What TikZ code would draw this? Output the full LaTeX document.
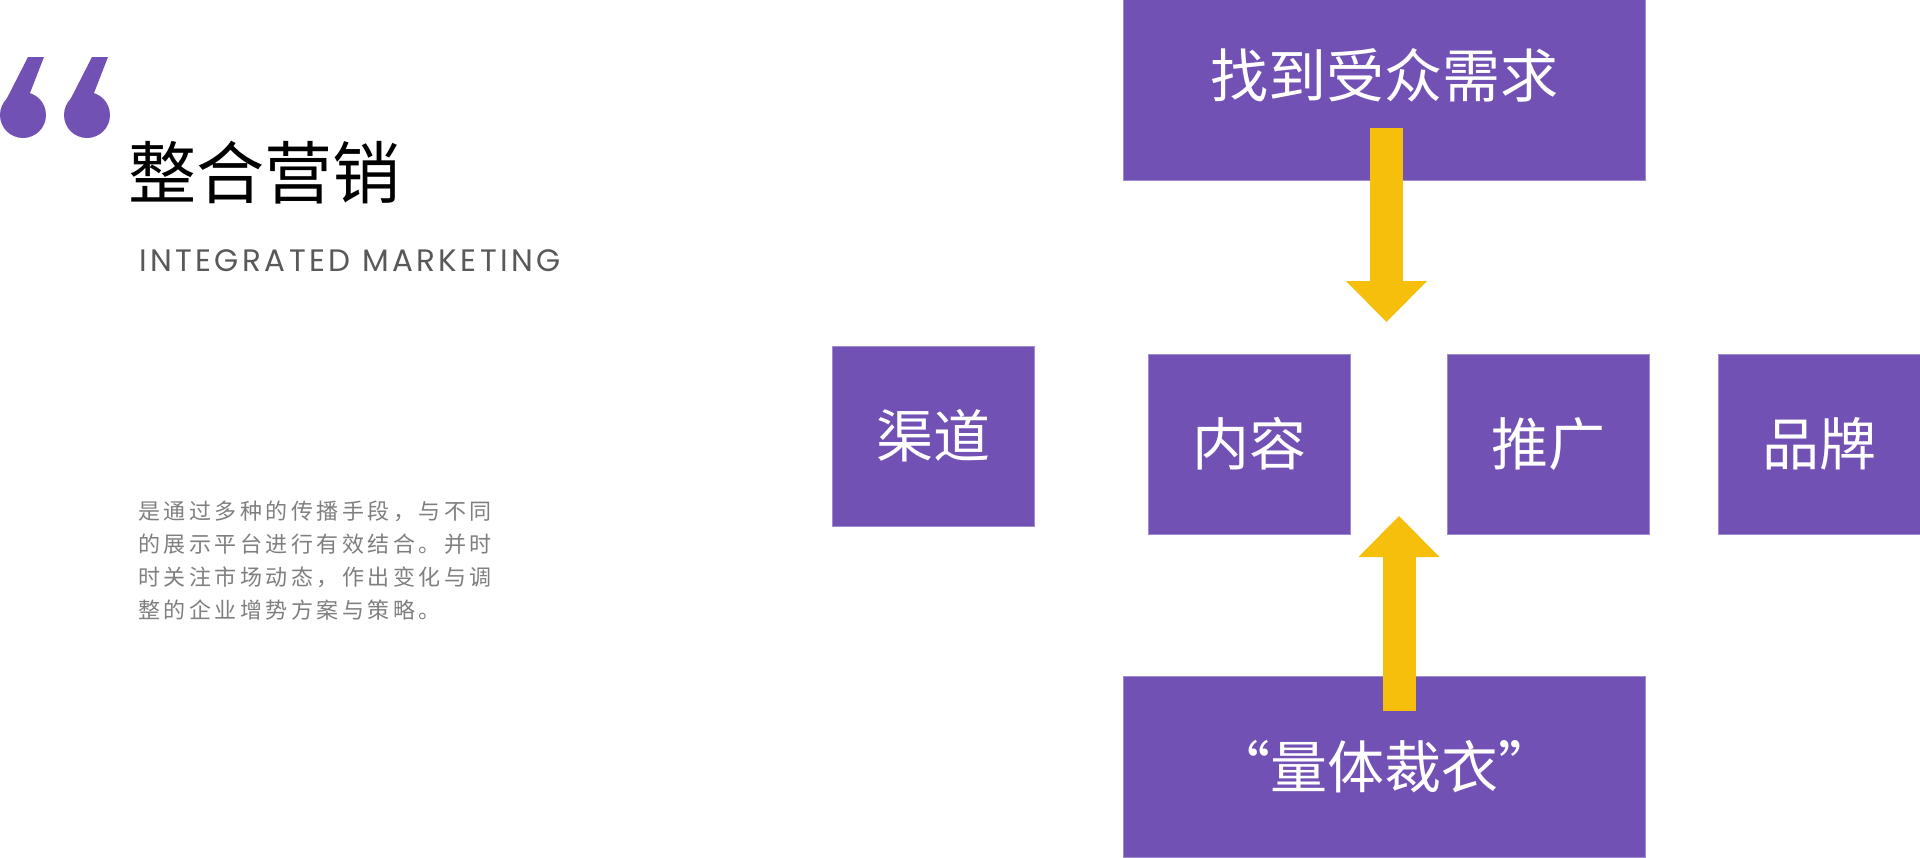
\documentclass[tikz,border=0pt]{standalone}
\usepackage{fontspec}
\newfontfamily\cjk{Noto Sans CJK SC}
\newfontfamily\cjkbody[LetterSpace=16]{Noto Sans CJK SC}
\newfontfamily\engfont[LetterSpace=11]{Poppins}
\usetikzlibrary{arrows.meta,positioning,calc}

\definecolor{boxpurple}{HTML}{7251B5}
\definecolor{boxedge}{HTML}{A08BD2}
\definecolor{arrowyellow}{HTML}{F5BF0C}
\definecolor{subgray}{HTML}{595959}
\definecolor{bodygray}{HTML}{7F7F7F}

\tikzset{
    smallbox/.style={minimum width=202, minimum height=180},
    widebox/.style={minimum width=522},
    bigarrow/.style={draw=arrowyellow, line width=33pt,
        -{Triangle[length=41pt, width=81pt, line width=0pt, fill=arrowyellow]}}
}

\begin{document}
\begin{tikzpicture}[x=1pt, y=-1pt]
        \fill[white] (0,0) rectangle (1920,857);
        \useasboundingbox (0,0) rectangle (1920,857);
        \clip (0,0) rectangle (1920,857);

        % quote marks
        \foreach \ox in {0,64} {
            \fill[boxpurple] (\ox+23,115) circle[radius=23];
            \fill[boxpurple] (\ox+28,57) -- (\ox+44,57) -- (\ox+30,93)
                -- (\ox+20,95) -- (\ox+3,106) -- cycle;
        }

        \begin{scope}[every node/.style={inner sep=0}]
            \node[anchor=west, font=\cjk\fontsize{68}{80}\selectfont] (title) at (128,173) {整合营销};
            \node[anchor=west, text=subgray, font=\engfont\fontsize{31}{36}\selectfont] (subtitle) at (139,261) {INTEGRATED MARKETING};
            \node[anchor=north west, align=left, text=bodygray,
                  font=\cjkbody\fontsize{22}{33}\selectfont] (desc) at (138,501)
                {是通过多种的传播手段，与不同\\的展示平台进行有效结合。并时\\时关注市场动态，作出变化与调\\整的企业增势方案与策略。};
        \end{scope}

        \begin{scope}[every node/.style={rectangle, fill=boxpurple, draw=boxedge, line width=1pt,
                    text=white, inner sep=0, font=\cjk\fontsize{57}{68}\selectfont}]
            \node[widebox, minimum height=210, font=\cjk\fontsize{58}{68}\selectfont] (need) at (1384,75) {找到受众需求};
            \node[smallbox] (channel) at (933,436) {渠道};
            \node[smallbox] (content) at (1249,444) {内容};
            \node[smallbox] (promo) at (1548,444) {推广};
            \node[smallbox] (brand) at (1819,444) {品牌};
            \node[widebox, minimum height=181] (tailor) at (1384,766.5) {“量体裁衣”};
        \end{scope}

        \coordinate (downstart) at ([xshift=2.5pt, yshift=53pt]need.south);
        \coordinate (downend) at (1386.5,322);
        \coordinate (upstart) at ([xshift=15pt, yshift=-35pt]tailor.north);
        \coordinate (upend) at (1399,516);

        \draw[bigarrow] (downstart) -- (downend);
        \draw[bigarrow] (upstart) -- (upend);
    \end{tikzpicture}
\end{document}
